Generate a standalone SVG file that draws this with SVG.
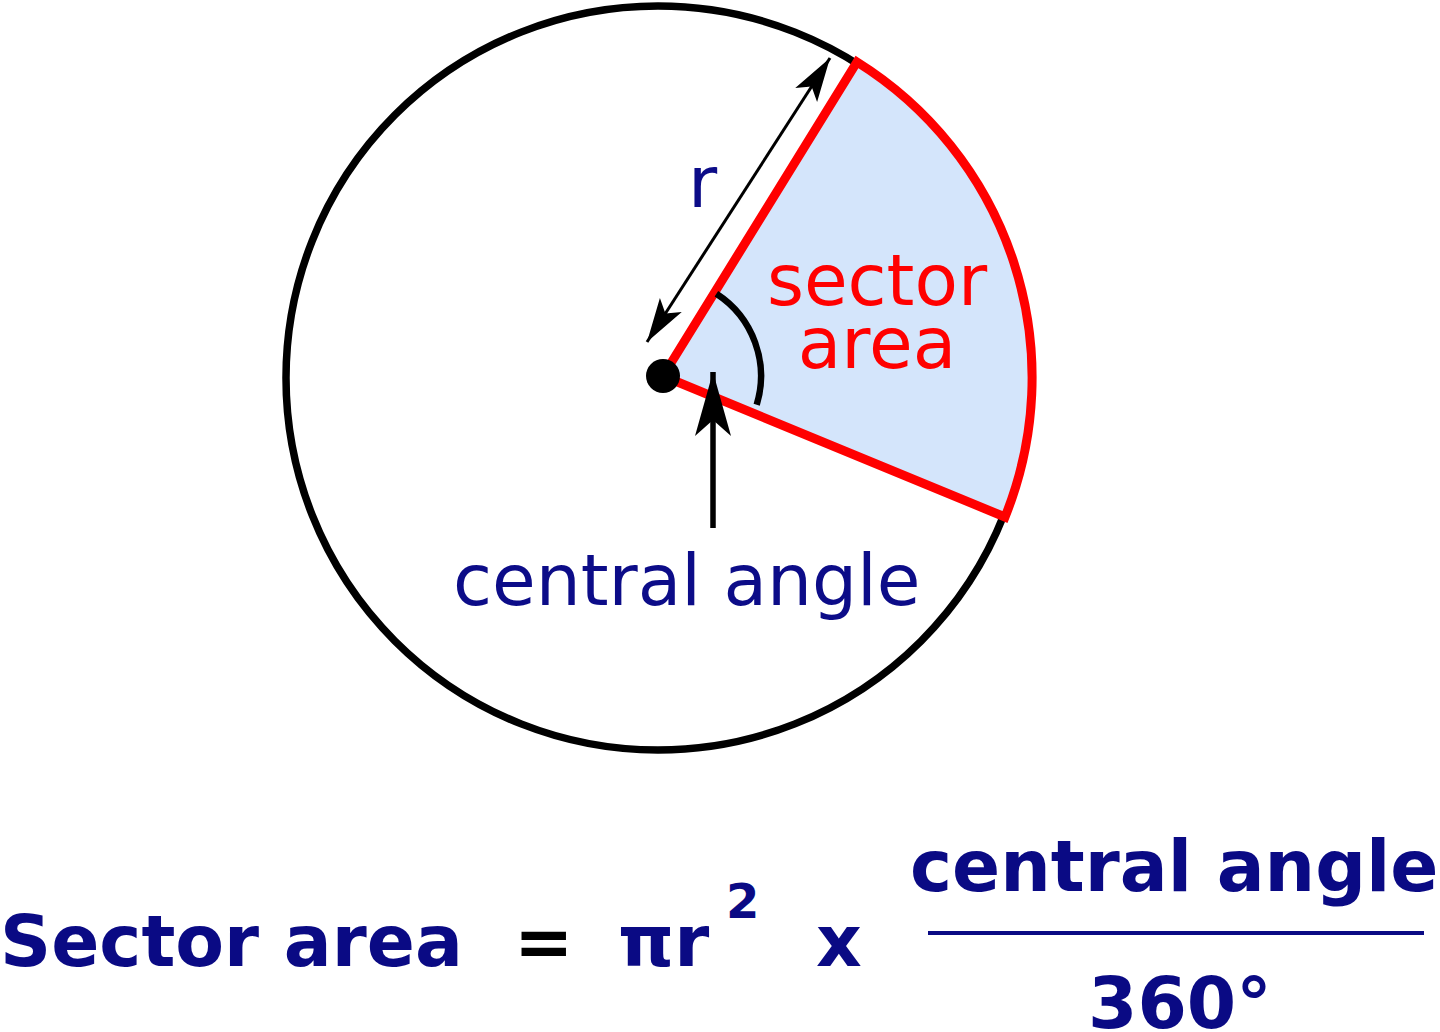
<svg xmlns="http://www.w3.org/2000/svg" width="1440" height="1032" viewBox="0 0 1440 1032">
<defs>
<style>
.lbl{font-family:"DejaVu Sans",Verdana,sans-serif;font-size:71px;}
.navy{fill:#0c0c88;}
.red{fill:#ff0000;}
.bold{font-family:"DejaVu Sans",Verdana,sans-serif;font-size:71px;font-weight:bold;fill:#0a0a84;}
</style>
<marker id="thin" markerUnits="userSpaceOnUse" markerWidth="60" markerHeight="40" viewBox="-50 -20 60 40" refX="0" refY="0" orient="auto-start-reverse">
<path d="M0,0 L-44,-13 L-34,0 L-44,13 Z" fill="#000"/>
</marker>
<marker id="thick" markerUnits="userSpaceOnUse" markerWidth="80" markerHeight="50" viewBox="-70 -25 80 50" refX="0" refY="0" orient="auto">
<path d="M0,0 L-64,-18 L-48,0 L-64,18 Z" fill="#000"/>
</marker>
</defs>
<rect width="1440" height="1032" fill="#fff"/>
<g id="circle">
<circle cx="658" cy="378" r="372" fill="none" stroke="#000" stroke-width="7.5"/>
</g>
<g id="sector">
<path d="M663,376 L857,62 A372,372 0 0 1 1005,517 Z" fill="#d4e5fb" stroke="#ff0000" stroke-width="9" stroke-linejoin="miter"/>
<text class="lbl red" x="877" y="305" text-anchor="middle">sector</text>
<text class="lbl red" x="877" y="368" text-anchor="middle">area</text>
</g>
<g id="center">
<circle cx="663" cy="376" r="17" fill="#000"/>
</g>
<g id="connectors">
<path d="M716.4,293.8 A98,98 0 0 1 756.7,404.7" fill="none" stroke="#000" stroke-width="6.5"/>
<line x1="647" y1="342" x2="830" y2="58" stroke="#000" stroke-width="3" marker-start="url(#thin)" marker-end="url(#thin)"/>
<line x1="713" y1="528" x2="713" y2="372" stroke="#000" stroke-width="5.5" marker-end="url(#thick)"/>
</g>
<g id="labels">
<text class="lbl navy" x="688" y="207">r</text>
<text class="lbl navy" x="453" y="605">central angle</text>
</g>
<g id="formula">
<text class="bold" x="0" y="966">Sector area</text>
<text class="bold" x="514" y="966" style="fill:#000">=</text>
<text class="bold" x="618" y="966">πr</text>
<text class="bold" x="726" y="918" style="font-size:48px">2</text>
<text class="bold" x="816" y="966">x</text>
<text class="bold" x="910" y="891">central angle</text>
<rect x="928" y="931" width="496" height="4" fill="#0a0a84"/>
<text class="bold" x="1088" y="1028">360°</text>
</g>
</svg>
